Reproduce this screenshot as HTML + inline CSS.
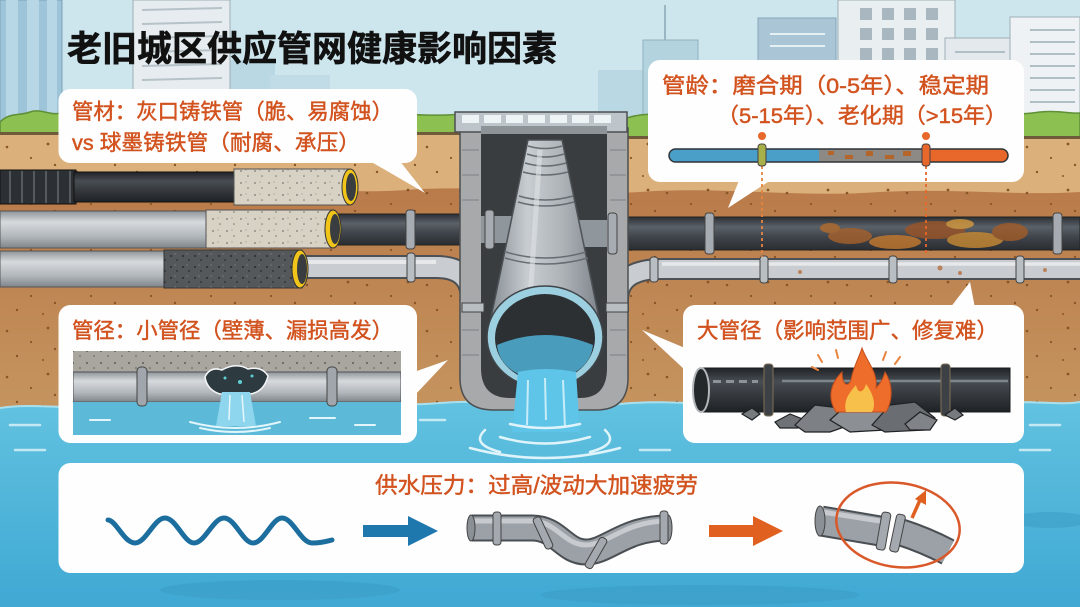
<!DOCTYPE html>
<html><head><meta charset="utf-8">
<style>
html,body{margin:0;padding:0;width:1080px;height:607px;overflow:hidden;background:#cde5ed}
svg{display:block}
text{font-family:"Liberation Sans","Noto Sans CJK SC",sans-serif}
.ct{fill:#d2531f;stroke:#d2531f;stroke-width:0.45px}
</style></head><body>
<svg width="1080" height="607" viewBox="0 0 1080 607" xmlns="http://www.w3.org/2000/svg">
<defs>
  <pattern id="soilDots" width="60" height="46" patternUnits="userSpaceOnUse">
    <circle cx="7" cy="9" r="1.3" fill="#8a5527"/><circle cx="31" cy="20" r="1.1" fill="#8a5527"/>
    <circle cx="48" cy="6" r="1.4" fill="#8a5527"/><circle cx="17" cy="34" r="1.2" fill="#8a5527"/>
    <circle cx="43" cy="38" r="1" fill="#8a5527"/><circle cx="55" cy="27" r="1.2" fill="#8a5527"/>
  </pattern>
  <pattern id="concrete" width="14" height="12" patternUnits="userSpaceOnUse">
    <rect width="14" height="12" fill="#d8d2c4"/>
    <circle cx="3" cy="3" r="0.9" fill="#7b776e"/><circle cx="10" cy="8" r="0.8" fill="#7b776e"/><circle cx="8" cy="2" r="0.6" fill="#9a958b"/>
  </pattern>
  <pattern id="darkcon" width="12" height="11" patternUnits="userSpaceOnUse">
    <rect width="12" height="11" fill="#55585b"/>
    <circle cx="3" cy="3" r="1" fill="#2a2c2e"/><circle cx="9" cy="7" r="0.9" fill="#2a2c2e"/><circle cx="7" cy="1" r="0.6" fill="#8a8c8e"/>
  </pattern>
  <pattern id="greycon" width="14" height="12" patternUnits="userSpaceOnUse">
    <rect width="14" height="12" fill="#a9a6a0"/>
    <circle cx="3" cy="3" r="1" fill="#5e5b56"/><circle cx="10" cy="8" r="0.8" fill="#5e5b56"/>
  </pattern>
  <linearGradient id="gDark" x1="0" y1="0" x2="0" y2="1">
    <stop offset="0" stop-color="#2b2f34"/><stop offset="0.3" stop-color="#5b6168"/><stop offset="0.6" stop-color="#40454b"/><stop offset="1" stop-color="#2a2d31"/>
  </linearGradient>
  <linearGradient id="gBlack" x1="0" y1="0" x2="0" y2="1">
    <stop offset="0" stop-color="#1f2226"/><stop offset="0.3" stop-color="#484d53"/><stop offset="1" stop-color="#1e2124"/>
  </linearGradient>
  <linearGradient id="gGray" x1="0" y1="0" x2="0" y2="1">
    <stop offset="0" stop-color="#8e9499"/><stop offset="0.3" stop-color="#d6dadd"/><stop offset="0.7" stop-color="#b0b5ba"/><stop offset="1" stop-color="#7f858a"/>
  </linearGradient>
  <linearGradient id="gBig" x1="0" y1="0" x2="1" y2="0">
    <stop offset="0" stop-color="#80878d"/><stop offset="0.35" stop-color="#c8cdd1"/><stop offset="0.65" stop-color="#aeb3b8"/><stop offset="1" stop-color="#7a8187"/>
  </linearGradient>
  <linearGradient id="gWater" x1="0" y1="0" x2="0" y2="1">
    <stop offset="0" stop-color="#62c2e0"/><stop offset="1" stop-color="#3fa8d3"/>
  </linearGradient>
  <linearGradient id="gSoil" x1="0" y1="0" x2="0" y2="1">
    <stop offset="0" stop-color="#b97b49"/><stop offset="1" stop-color="#c6955f"/>
  </linearGradient>
  <clipPath id="barClip"><rect x="669" y="149" width="339" height="13" rx="6.5"/></clipPath>
  <clipPath id="pic3"><rect x="73" y="351" width="328" height="84"/></clipPath>
</defs>

<!-- SKY & BUILDINGS -->
<rect x="0" y="0" width="1080" height="140" fill="#cde5ed"/>
<rect x="0" y="0" width="62" height="125" fill="#9dc4d8" stroke="#7aa2b6"/>
<rect x="6" y="0" width="12" height="120" fill="#b7d7e6"/><rect x="27" y="0" width="12" height="120" fill="#b7d7e6"/><rect x="47" y="0" width="10" height="120" fill="#b7d7e6"/>
<rect x="230" y="60" width="45" height="65" fill="#b9d8e3"/>
<rect x="270" y="75" width="60" height="50" fill="#c1dce6"/>
<rect x="133" y="0" width="97" height="125" fill="#e6ecef" stroke="#9fb0b8"/>
<g stroke="#b5c2c8" stroke-width="2">
  <line x1="142" y1="10" x2="222" y2="8"/><line x1="142" y1="24" x2="222" y2="22"/><line x1="142" y1="38" x2="222" y2="36"/>
  <line x1="142" y1="52" x2="222" y2="50"/><line x1="142" y1="66" x2="222" y2="64"/><line x1="142" y1="80" x2="222" y2="78"/>
  <line x1="142" y1="94" x2="222" y2="92"/><line x1="142" y1="108" x2="222" y2="106"/>
</g>
<rect x="598" y="70" width="50" height="55" fill="#b9d8e3"/>
<line x1="665" y1="5" x2="665" y2="40" stroke="#8aa7b5" stroke-width="1.5"/>
<rect x="643" y="40" width="55" height="85" fill="#b3d3df" stroke="#8fb1c0"/>
<rect x="758" y="18" width="78" height="105" fill="#a9c5d6" stroke="#87a6b8"/>
<line x1="770" y1="34" x2="825" y2="34" stroke="#e5eff4" stroke-width="2"/><line x1="770" y1="46" x2="825" y2="46" stroke="#e5eff4" stroke-width="2"/>
<rect x="838" y="0" width="117" height="125" fill="#e9eef1" stroke="#9fb0b8"/>
<g fill="#a8b7c0">
  <rect x="860" y="8" width="12" height="12"/><rect x="882" y="8" width="12" height="12"/><rect x="904" y="8" width="12" height="12"/><rect x="926" y="8" width="12" height="12"/>
  <rect x="860" y="28" width="12" height="12"/><rect x="882" y="28" width="12" height="12"/><rect x="904" y="28" width="12" height="12"/><rect x="926" y="28" width="12" height="12"/>
  <rect x="860" y="48" width="12" height="12"/><rect x="882" y="48" width="12" height="12"/><rect x="904" y="48" width="12" height="12"/><rect x="926" y="48" width="12" height="12"/>
</g>
<rect x="945" y="38" width="75" height="90" fill="#e3e9ec" stroke="#9fb0b8"/>
<rect x="1010" y="17" width="70" height="110" fill="#eef2f4" stroke="#9fb0b8"/>
<g stroke="#b0bec6" stroke-width="2">
  <line x1="1030" y1="30" x2="1075" y2="30"/><line x1="1030" y1="42" x2="1075" y2="42"/><line x1="1030" y1="54" x2="1075" y2="54"/>
  <line x1="1030" y1="66" x2="1075" y2="66"/><line x1="1030" y1="78" x2="1075" y2="78"/><line x1="1030" y1="90" x2="1075" y2="90"/>
  <line x1="1030" y1="102" x2="1075" y2="102"/><line x1="955" y1="52" x2="1005" y2="52"/><line x1="955" y1="64" x2="1005" y2="64"/>
</g>

<!-- SOIL -->
<rect x="0" y="128" width="1080" height="290" fill="#dbb07a"/>
<path d="M0,192 C60,186 120,196 200,190 C280,184 340,196 420,189 C520,186 560,196 640,192 C720,186 800,198 880,192 C960,188 1020,196 1080,192 L1080,420 L0,420 Z" fill="url(#gSoil)"/>
<rect x="0" y="128" width="1080" height="290" fill="url(#soilDots)"/>

<!-- GRASS -->
<path d="M0,122 C10,112 20,116 30,112 C40,108 50,116 62,113 C75,110 85,117 100,113 C120,109 135,118 150,114 C175,110 200,118 230,114 C260,110 300,118 340,114 C380,110 420,118 462,114 L462,134 L0,134 Z" fill="#8cc152" stroke="#5f8f36" stroke-width="1.5"/>
<path d="M627,118 C650,110 680,118 710,113 C740,109 770,118 800,114 C840,110 880,118 920,113 C960,109 1000,118 1040,112 C1060,110 1070,114 1080,113 L1080,138 L627,138 Z" fill="#8cc152" stroke="#5f8f36" stroke-width="1.5"/>
<rect x="0" y="132" width="462" height="3" fill="#6f5a3c"/><rect x="627" y="136" width="453" height="3" fill="#6f5a3c"/>

<!-- WATER -->
<path d="M0,408 C40,402 80,412 120,405 C170,398 220,410 280,404 C340,398 380,408 440,403 C500,398 560,410 620,404 C680,398 740,410 800,404 C860,398 920,410 980,404 C1030,399 1060,406 1080,402 L1080,607 L0,607 Z" fill="url(#gWater)"/>
<path d="M0,408 C40,402 80,412 120,405 C170,398 220,410 280,404 C340,398 380,408 440,403 C500,398 560,410 620,404 C680,398 740,410 800,404 C860,398 920,410 980,404 C1030,399 1060,406 1080,402" fill="none" stroke="#a9e0ef" stroke-width="2"/>
<g stroke="#d7f1f8" stroke-width="2.5" stroke-linecap="round" fill="none" opacity="0.85">
  <line x1="10" y1="425" x2="40" y2="425"/><line x1="420" y1="420" x2="445" y2="420"/><line x1="640" y1="450" x2="670" y2="450"/>
  <line x1="1030" y1="425" x2="1060" y2="425"/><line x1="1020" y1="450" x2="1050" y2="450"/><line x1="15" y1="450" x2="45" y2="450"/>
</g>
<ellipse cx="280" cy="590" rx="120" ry="10" fill="#3c9fc6" opacity="0.6"/>
<ellipse cx="700" cy="595" rx="160" ry="10" fill="#3c9fc6" opacity="0.6"/>
<ellipse cx="1050" cy="520" rx="40" ry="8" fill="#3c9fc6" opacity="0.6"/>

<!-- LEFT PIPES -->
<rect x="0" y="170" width="76" height="34" fill="#2c3034" stroke="#111"/>
<g stroke="#555a60" stroke-width="2"><line x1="10" y1="171" x2="10" y2="203"/><line x1="22" y1="171" x2="22" y2="203"/><line x1="34" y1="171" x2="34" y2="203"/><line x1="46" y1="171" x2="46" y2="203"/><line x1="58" y1="171" x2="58" y2="203"/><line x1="70" y1="171" x2="70" y2="203"/></g>
<rect x="74" y="172" width="162" height="30" fill="url(#gBlack)" stroke="#111"/>
<rect x="234" y="169" width="116" height="36" fill="url(#concrete)" stroke="#555"/>
<ellipse cx="350" cy="187" rx="8" ry="18" fill="#f0c419" stroke="#333"/>
<ellipse cx="351" cy="187" rx="5" ry="14" fill="#3a3d40"/>
<rect x="0" y="211" width="208" height="37" fill="url(#gGray)" stroke="#555"/>
<rect x="206" y="210" width="128" height="38" fill="url(#concrete)" stroke="#555"/>
<rect x="334" y="214" width="200" height="31" fill="url(#gDark)" stroke="#222"/>
<ellipse cx="333" cy="229" rx="8" ry="19" fill="#f0c419" stroke="#333"/>
<ellipse cx="335" cy="229" rx="5" ry="15" fill="#3a3d40"/>
<rect x="406" y="210" width="9" height="39" rx="3" fill="#a6acb1" stroke="#444"/>
<rect x="485" y="210" width="9" height="39" rx="3" fill="#a6acb1" stroke="#444"/>
<rect x="494" y="216" width="40" height="27" fill="#8f969c"/>
<rect x="0" y="251" width="166" height="36" fill="url(#gGray)" stroke="#555"/>
<rect x="164" y="250" width="138" height="38" fill="url(#darkcon)" stroke="#333"/>
<path d="M300,267 L436,267 Q472,267 472,300 L472,312" fill="none" stroke="#4c5156" stroke-width="24"/>
<path d="M300,267 L436,267 Q472,267 472,300 L472,312" fill="none" stroke="#c9cdd1" stroke-width="20"/>
<path d="M300,262 L436,262" fill="none" stroke="#e6e8ea" stroke-width="4"/>
<ellipse cx="300" cy="269" rx="8" ry="19" fill="#f0c419" stroke="#333"/>
<ellipse cx="302" cy="269" rx="5" ry="15" fill="#3a3d40"/>
<rect x="407" y="253" width="8" height="29" rx="3" fill="#b9bec2" stroke="#444"/>

<!-- RIGHT PIPES -->
<rect x="560" y="217" width="520" height="33" fill="url(#gDark)" stroke="#222"/>
<rect x="560" y="220" width="48" height="27" fill="#8f969c"/>
<g opacity="0.8">
  <ellipse cx="850" cy="236" rx="22" ry="8" fill="#a8612b"/>
  <ellipse cx="895" cy="242" rx="26" ry="7" fill="#c77a2e"/>
  <ellipse cx="935" cy="230" rx="30" ry="9" fill="#9b5426"/>
  <ellipse cx="975" cy="240" rx="28" ry="8" fill="#c98a33"/>
  <ellipse cx="1010" cy="232" rx="18" ry="9" fill="#a35c28"/>
  <ellipse cx="830" cy="228" rx="10" ry="5" fill="#b36b2d"/>
  <ellipse cx="960" cy="224" rx="14" ry="5" fill="#d69a3d"/>
</g>
<rect x="608" y="213" width="9" height="41" rx="3" fill="#a6acb1" stroke="#444"/>
<rect x="705" y="213" width="9" height="41" rx="3" fill="#a6acb1" stroke="#444"/>
<rect x="1053" y="213" width="9" height="41" rx="3" fill="#a6acb1" stroke="#444"/>
<path d="M1080,269 L662,269 Q618,269 618,300 L618,312" fill="none" stroke="#4c5156" stroke-width="22"/>
<path d="M1080,269 L662,269 Q618,269 618,300 L618,312" fill="none" stroke="#c9cdd1" stroke-width="18"/>
<path d="M1080,264 L662,264" fill="none" stroke="#e6e8ea" stroke-width="3.5"/>
<g fill="#b3622c" opacity="0.7"><circle cx="800" cy="272" r="2"/><circle cx="940" cy="268" r="2.5"/><circle cx="960" cy="273" r="2"/><circle cx="1045" cy="270" r="2"/></g>
<rect x="650" y="257" width="8" height="25" rx="3" fill="#b9bec2" stroke="#444"/>
<rect x="760" y="256" width="8" height="27" rx="3" fill="#b9bec2" stroke="#444"/>
<rect x="889" y="256" width="8" height="27" rx="3" fill="#b9bec2" stroke="#444"/>
<rect x="1016" y="256" width="8" height="27" rx="3" fill="#b9bec2" stroke="#444"/>

<!-- MANHOLE -->
<path d="M460,128 L460,378 Q460,410 494,410 L596,410 Q628,410 628,378 L628,128 Z" fill="#a7a9ab" stroke="#4d4f51" stroke-width="1.5"/>
<path d="M481,130 L481,368 Q481,398 510,398 L580,398 Q607,398 607,368 L607,130 Z" fill="#3a3d40"/>
<g stroke="#7e8184" stroke-width="1">
  <line x1="462" y1="150" x2="479" y2="150"/><line x1="462" y1="175" x2="479" y2="175"/><line x1="462" y1="200" x2="479" y2="200"/>
  <line x1="462" y1="330" x2="479" y2="330"/><line x1="462" y1="355" x2="479" y2="355"/><line x1="610" y1="150" x2="626" y2="150"/>
  <line x1="610" y1="175" x2="626" y2="175"/><line x1="610" y1="200" x2="626" y2="200"/><line x1="610" y1="330" x2="626" y2="330"/><line x1="610" y1="355" x2="626" y2="355"/>
</g>
<rect x="481" y="216" width="50" height="27" fill="#8f969c"/>
<rect x="485" y="210" width="9" height="39" rx="3" fill="#a6acb1" stroke="#444"/>
<rect x="560" y="220" width="47" height="27" fill="#8f969c"/>
<rect x="608" y="213" width="9" height="41" rx="3" fill="#a6acb1" stroke="#444"/>
<rect x="462" y="303" width="22" height="9" fill="#b9bec2" stroke="#444"/>
<rect x="606" y="303" width="22" height="9" fill="#b9bec2" stroke="#444"/>
<rect x="455" y="112" width="172" height="20" fill="#bec5ca" stroke="#4d4f51" stroke-width="1.5"/>
<g fill="#eef3f6"><rect x="462" y="115" width="17" height="8"/><rect x="484" y="115" width="17" height="8"/><rect x="506" y="115" width="17" height="8"/><rect x="528" y="115" width="17" height="8"/><rect x="550" y="115" width="17" height="8"/><rect x="572" y="115" width="17" height="8"/><rect x="594" y="115" width="17" height="8"/></g>
<rect x="481" y="126" width="126" height="8" fill="#8e9398"/>
<path d="M528,140 L562,140 L603,337 L487,337 Z" fill="url(#gBig)" stroke="#4d5257" stroke-width="1.5"/>
<g fill="none" stroke="#656c72" stroke-width="1.5">
  <path d="M528,146 Q545,151 562,146"/><path d="M527,154 Q545,160 564,154"/><path d="M525,163 Q545,169 566,163"/><path d="M523,172 Q545,178 568,172"/>
  <path d="M519,196 Q545,204 573,196"/><path d="M518,202 Q545,210 574,202"/>
  <path d="M506,252 Q545,264 586,252"/><path d="M505,258 Q545,270 588,258"/>
</g>
<path d="M540,150 L530,300" stroke="#dfe3e6" stroke-width="5" opacity="0.6"/>
<ellipse cx="545" cy="337" rx="58" ry="51" fill="#9ccfe0" stroke="#3f4448" stroke-width="1.5"/>
<ellipse cx="545" cy="338" rx="50" ry="44" fill="#2c3033"/>
<path d="M497,345 Q545,325 593,345 Q590,375 545,382 Q500,375 497,345 Z" fill="#4a9cbc"/>
<path d="M518,372 Q545,366 576,372 L580,432 L512,432 Z" fill="#5ec4e8"/>
<g stroke="#c6ecf8" stroke-width="2"><line x1="528" y1="380" x2="527" y2="425"/><line x1="545" y1="378" x2="546" y2="420"/><line x1="563" y1="380" x2="565" y2="428"/></g>
<g fill="none" stroke="#dff4fa" stroke-width="2.5" stroke-linecap="round">
  <path d="M500,437 Q545,450 590,437"/><path d="M485,430 Q470,444 500,452"/><path d="M605,430 Q620,444 590,452"/>
  <path d="M470,448 Q545,468 620,448"/><path d="M510,424 Q545,432 580,424"/>
</g>

<!-- CALLOUT 1 -->
<path d="M368,160 L399,160 L425,193 Z" fill="#fefefe"/>
<rect x="58.5" y="89" width="358.5" height="74" rx="12" fill="#fefefe"/>
<text class="ct" x="72" y="119" font-size="21.5" textLength="321" lengthAdjust="spacingAndGlyphs">管材：灰口铸铁管（脆、易腐蚀）</text>
<text class="ct" x="72" y="150" font-size="21.5" textLength="288" lengthAdjust="spacingAndGlyphs">vs 球墨铸铁管（耐腐、承压）</text>

<!-- CALLOUT 2 -->
<path d="M740,178 L774,178 L728,208 Z" fill="#fefefe"/>
<rect x="648" y="60" width="376" height="122" rx="12" fill="#fefefe"/>
<text class="ct" x="662" y="93" font-size="21.5" textLength="327" lengthAdjust="spacingAndGlyphs">管龄：磨合期（0-5年）、稳定期</text>
<text class="ct" x="717" y="123" font-size="21.5" textLength="290" lengthAdjust="spacingAndGlyphs">（5-15年）、老化期（&gt;15年）</text>
<g clip-path="url(#barClip)">
  <rect x="669" y="149" width="150" height="13" fill="#4a9fc8"/>
  <rect x="819" y="149" width="107" height="13" fill="#8d8a86"/>
  <g fill="#b5652a"><rect x="828" y="151" width="6" height="4"/><rect x="845" y="155" width="8" height="4"/><rect x="866" y="151" width="7" height="5"/><rect x="885" y="155" width="9" height="4"/><rect x="903" y="151" width="8" height="5"/></g>
  <rect x="926" y="149" width="82" height="13" fill="#e8672a"/>
</g>
<rect x="669" y="149" width="339" height="13" rx="6.5" fill="none" stroke="#2f3438" stroke-width="1.5"/>
<line x1="762" y1="166" x2="762" y2="257" stroke="#e8843f" stroke-width="1.8" stroke-dasharray="3,3"/>
<line x1="926" y1="166" x2="926" y2="255" stroke="#e8672a" stroke-width="1.8" stroke-dasharray="3,3"/>
<rect x="758" y="144" width="8" height="22" rx="3" fill="#a8b04a" stroke="#444"/>
<rect x="922" y="144" width="8" height="22" rx="3" fill="#e8672a" stroke="#444"/>
<circle cx="762" cy="136" r="4" fill="#e8672a"/><circle cx="926" cy="136" r="4" fill="#e8672a"/>

<!-- CALLOUT 3 -->
<path d="M414,372 L414,396 L448,360 Z" fill="#fefefe"/>
<rect x="58.5" y="305" width="358.5" height="138" rx="12" fill="#fefefe"/>
<text class="ct" x="72" y="338" font-size="21.5" textLength="321" lengthAdjust="spacingAndGlyphs">管径：小管径（壁薄、漏损高发）</text>
<g clip-path="url(#pic3)">
  <rect x="73" y="351" width="328" height="22" fill="url(#greycon)"/>
  <rect x="73" y="372" width="328" height="30" fill="url(#gGray)" stroke="#4d5257"/>
  <rect x="73" y="402" width="328" height="33" fill="#5cbad8"/>
  <g stroke="#e2f5fb" stroke-width="2" fill="none" stroke-linecap="round">
    <line x1="90" y1="420" x2="110" y2="420"/><line x1="310" y1="418" x2="335" y2="418"/><line x1="355" y1="425" x2="375" y2="425"/>
    <path d="M190,422 Q235,434 280,422"/><path d="M200,428 Q235,436 270,428"/>
  </g>
  <rect x="137" y="367" width="10" height="39" rx="4" fill="#a0a6ab" stroke="#444"/>
  <rect x="327" y="367" width="10" height="39" rx="4" fill="#a0a6ab" stroke="#444"/>
  <path d="M205,377 Q210,366 222,370 Q236,362 248,369 Q262,366 268,376 Q264,392 250,394 L220,394 Q207,390 205,377 Z" fill="#2d3b40" stroke="#f4f6f7" stroke-width="1.5"/>
  <g fill="#5fd0d6"><circle cx="225" cy="378" r="1.5"/><circle cx="240" cy="382" r="2"/><circle cx="252" cy="376" r="1.5"/></g>
  <path d="M222,392 L250,392 L256,426 L216,426 Z" fill="#8ed6ee"/>
  <g stroke="#e6f7fc" stroke-width="1.5"><line x1="230" y1="395" x2="229" y2="420"/><line x1="242" y1="395" x2="244" y2="422"/></g>
</g>

<!-- CALLOUT 4 -->
<path d="M685,348 L685,370 L642,330 Z" fill="#fefefe"/>
<path d="M950,308 L975,308 L970,282 Z" fill="#fefefe"/>
<rect x="683" y="305" width="341" height="138" rx="12" fill="#fefefe"/>
<text class="ct" x="697" y="338" font-size="21.5" textLength="301" lengthAdjust="spacingAndGlyphs">大管径（影响范围广、修复难）</text>
<rect x="700" y="368" width="310" height="44" fill="url(#gBlack)" stroke="#1a1c1f"/>
<line x1="782" y1="381" x2="1008" y2="381" stroke="#7e868d" stroke-width="2.5"/>
<g fill="#8b9298"><rect x="713" y="380" width="8" height="3"/><rect x="726" y="380" width="8" height="3"/><rect x="739" y="380" width="8" height="3"/><rect x="752" y="380" width="6" height="3"/></g>
<ellipse cx="701" cy="390" rx="8" ry="22" fill="#25282b" stroke="#b2b6ba" stroke-width="2"/>
<rect x="764" y="364" width="9" height="52" rx="3" fill="#3d4146" stroke="#7e6f55"/>
<rect x="941" y="364" width="9" height="52" rx="3" fill="#3d4146" stroke="#7e6f55"/>
<g stroke="#1f2225" stroke-width="1.2">
  <polygon points="775,422 790,414 805,420 798,428 780,428" fill="#6f7276"/>
  <polygon points="795,425 815,405 840,408 850,425 830,432 805,432" fill="#7d8084"/>
  <polygon points="830,420 850,402 875,400 892,412 885,430 850,432" fill="#8c8f93"/>
  <polygon points="872,425 890,405 915,402 935,418 925,430 885,432" fill="#6a6d71"/>
  <polygon points="905,424 920,412 937,420 930,430 910,430" fill="#808387"/>
  <polygon points="742,414 752,408 760,414 752,420" fill="#777a7e"/>
  <polygon points="945,415 955,408 963,415 955,420" fill="#777a7e"/>
</g>
<path d="M836,412 C826,396 832,382 842,372 C842,385 848,388 851,380 C853,368 858,360 862,348 C867,362 878,372 876,388 C882,382 884,376 885,372 C894,386 892,402 886,412 Z" fill="#ee6d2b" stroke="#c44f1c" stroke-width="1"/>
<path d="M846,412 C843,400 850,392 856,385 C858,395 864,392 866,384 C874,395 876,405 872,412 Z" fill="#f7c04a"/>
<g stroke="#e8843f" stroke-width="2" stroke-linecap="round">
  <line x1="818" y1="355" x2="822" y2="362"/><line x1="836" y1="350" x2="838" y2="358"/><line x1="886" y1="352" x2="883" y2="360"/><line x1="900" y1="357" x2="895" y2="364"/><line x1="812" y1="367" x2="818" y2="370"/>
</g>

<!-- CALLOUT 5 -->
<rect x="58.5" y="463" width="965.5" height="110" rx="12" fill="#fefefe"/>
<text class="ct" x="375" y="493" font-size="22" textLength="323" lengthAdjust="spacingAndGlyphs">供水压力：过高/波动大加速疲劳</text>
<path d="M108,520 C116,520 124,543 135,543 C146,543 154,518 165,518 C176,518 184,543 194,543 C205,543 213,518 224,518 C235,518 243,543 253,543 C264,543 272,518 282,518 C293,518 301,543 312,543 C322,543 328,541 332,540" fill="none" stroke="#1c6e9f" stroke-width="5" stroke-linecap="round"/>
<path d="M363,525 L408,525 L408,516 L438,531 L408,546 L408,537 L363,537 Z" fill="#1f78ad"/>
<path d="M472,528 L532,528 C558,528 564,552 586,552 C608,552 624,528 668,528" fill="none" stroke="#4a4f54" stroke-width="27"/>
<path d="M472,528 L532,528 C558,528 564,552 586,552 C608,552 624,528 668,528" fill="none" stroke="#9ba1a6" stroke-width="23"/>
<path d="M472,521 L532,521 C556,521 564,545 586,545 C608,545 624,521 668,521" fill="none" stroke="#c7cbcf" stroke-width="5"/>
<ellipse cx="471" cy="528" rx="4" ry="13" fill="#8a9095" stroke="#444"/>
<ellipse cx="668" cy="528" rx="4" ry="13" fill="#8a9095" stroke="#444"/>
<rect x="493" y="512" width="8" height="33" rx="3" fill="#a3a9ae" stroke="#444"/>
<rect x="539" y="516" width="8" height="34" rx="3" fill="#a3a9ae" stroke="#444" transform="rotate(-25 543 533)"/>
<rect x="592" y="536" width="8" height="34" rx="3" fill="#a3a9ae" stroke="#444" transform="rotate(30 596 553)"/>
<rect x="660" y="511" width="8" height="33" rx="3" fill="#a3a9ae" stroke="#444"/>
<path d="M709,525 L753,525 L753,516 L783,531 L753,546 L753,537 L709,537 Z" fill="#e0601f"/>
<path d="M821,521 L880,531" fill="none" stroke="#4a4f54" stroke-width="31"/>
<path d="M821,521 L880,531" fill="none" stroke="#9ba1a6" stroke-width="27"/>
<path d="M822,512 L880,521" fill="none" stroke="#c7cbcf" stroke-width="5"/>
<path d="M900,532 Q925,540 948,552" fill="none" stroke="#4a4f54" stroke-width="28"/>
<path d="M900,532 Q925,540 948,552" fill="none" stroke="#9ba1a6" stroke-width="24"/>
<ellipse cx="820" cy="521" rx="5" ry="15" fill="#8a9095" stroke="#444"/>
<rect x="879" y="512" width="9" height="38" rx="3" fill="#a3a9ae" stroke="#444" transform="rotate(10 883 531)"/>
<rect x="893" y="514" width="9" height="38" rx="3" fill="#a3a9ae" stroke="#444" transform="rotate(12 897 533)"/>
<ellipse cx="898" cy="525" rx="62" ry="42" fill="none" stroke="#d9592a" stroke-width="2.5" transform="rotate(8 898 525)"/>
<line x1="912" y1="518" x2="920" y2="500" stroke="#e0601f" stroke-width="3.5"/>
<polygon points="915,499 926,490 926,505" fill="#e0601f"/>

<!-- TITLE -->
<text x="67" y="61" font-size="35" font-weight="bold" fill="#111" stroke="#111" stroke-width="0.6" textLength="490" lengthAdjust="spacingAndGlyphs">老旧城区供应管网健康影响因素</text>
</svg>
</body></html>
